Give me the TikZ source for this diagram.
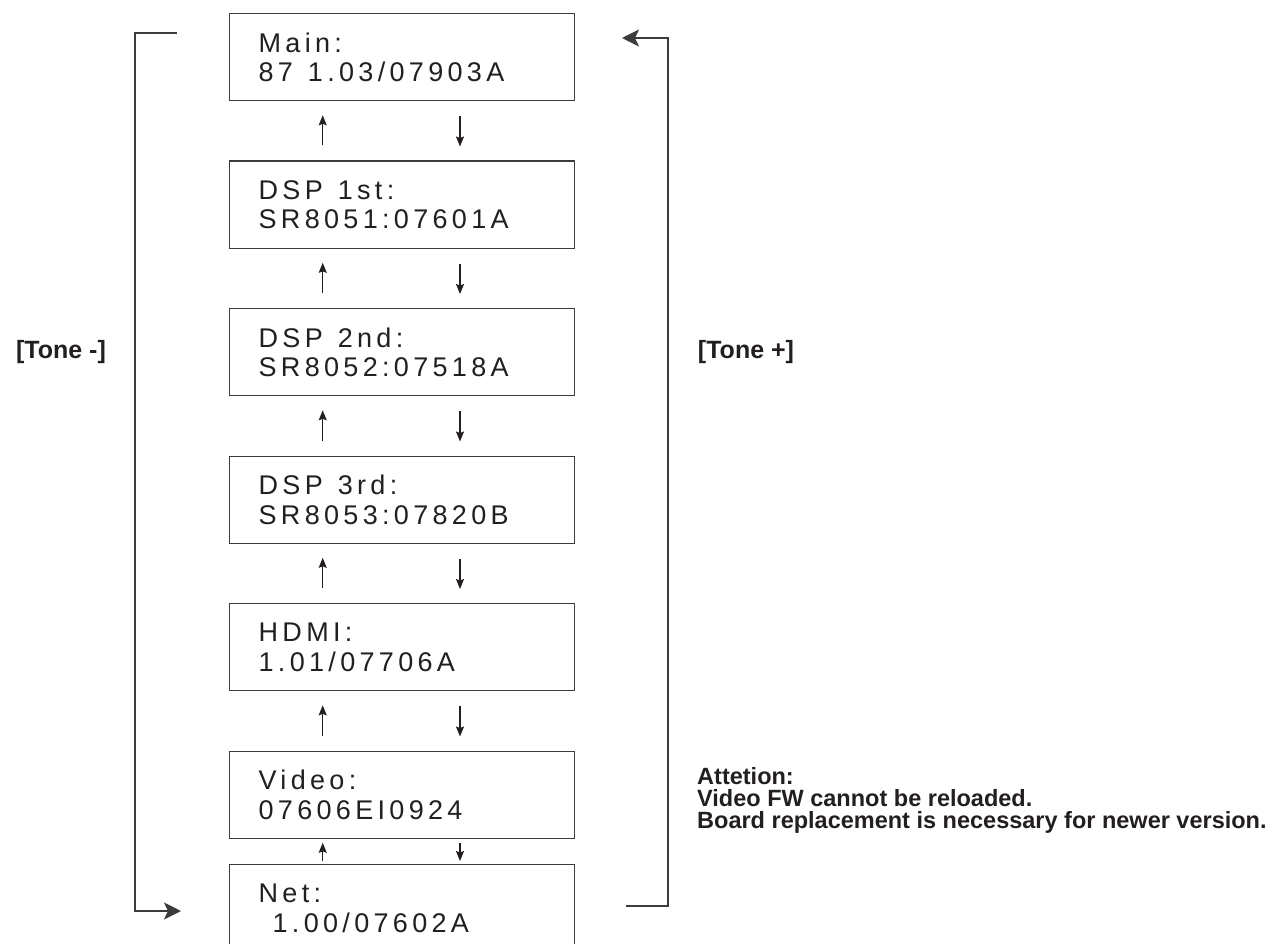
\documentclass[tikz,border=0pt]{standalone}
\usepackage{fontspec}
\setmainfont{Liberation Sans}
\newfontfamily\boxfont[LetterSpace=16]{Liberation Sans}
\usetikzlibrary{arrows.meta,calc}
\definecolor{ink}{HTML}{231F20}
\definecolor{wire}{HTML}{3C3C3C}
\newcommand\wgap{\hspace*{15pt}}
\begin{document}
\begin{tikzpicture}[x=1pt,y=-1pt,
  fwbox/.style={draw=wire, line width=1.3pt, anchor=north west, minimum width=345pt, minimum height=87pt, inner xsep=29pt, inner ysep=0pt, text width=287pt, align=left, font=\boxfont\fontsize{27}{29.5}\selectfont, text=ink},
  sarr/.style={draw=ink, line width=1.3pt, -{Stealth[length=10pt,width=8pt,inset=1.5pt]}},
  bigarr/.style={draw=wire, line width=2pt, -{Stealth[length=17pt,width=17pt,inset=4pt]}},
  lbl/.style={font=\bfseries\fontsize{25}{22}\selectfont, text=ink, inner sep=0pt},
]
\useasboundingbox[fill=white] (0,0) rectangle (1279,944);
\node[fwbox] (main)  at (229,13)    {Main:\\87\wgap1.03/07903A};
\node[fwbox] (dspa)  at (229,160.5) {DSP\wgap1st:\\SR8051:07601A};
\node[fwbox] (dspb)  at (229,308)   {DSP\wgap2nd:\\SR8052:07518A};
\node[fwbox] (dspc)  at (229,455.5) {DSP\wgap3rd:\\SR8053:07820B};
\node[fwbox] (hdmi)  at (229,603)   {HDMI:\\1.01/07706A};
\node[fwbox] (video) at (229,750.5) {Video:\\07606EI0924};
\node[fwbox] (net)   at (229,864)   {Net:\\\hspace*{14pt}1.00/07602A};

\coordinate (ux) at (322.7,0);
\coordinate (dx) at (460,0);
\foreach \a/\b in {main/dspa, dspa/dspb, dspb/dspc, dspc/hdmi, hdmi/video}{
  \draw[sarr] ($(\b.north -| ux)+(0,-15)$) -- ($(\a.south -| ux)+(0,14)$);
  \draw[sarr] ($(\a.south -| dx)+(0,15)$) -- ($(\b.north -| dx)+(0,-14)$);
}
\draw[sarr] ($(net.north -| ux)+(0,-3)$) -- ($(video.south -| ux)+(0,4)$);
\draw[sarr] ($(video.south -| dx)+(0,4)$) -- ($(net.north -| dx)+(0,-3)$);

\coordinate (lstart) at (177,33);
\coordinate (lend) at (181,911);
\draw[bigarr] (lstart) -- ++(-42,0) |- (lend);
\coordinate (rstart) at (626,906);
\coordinate (rend) at (622,38);
\draw[bigarr] (rstart) -- ++(41.5,0) |- (rend);

\node[lbl] (tminus) at (61,352) {[Tone -]};
\node[lbl] (tplus) at (746,352) {[Tone +]};
\node[lbl, anchor=north west, align=left, font=\bfseries\fontsize{23.5}{22}\selectfont] (note) at (697,767)
  {Attetion:\\Video FW cannot be reloaded.\\Board replacement is necessary for newer version.};
\end{tikzpicture}
\end{document}
